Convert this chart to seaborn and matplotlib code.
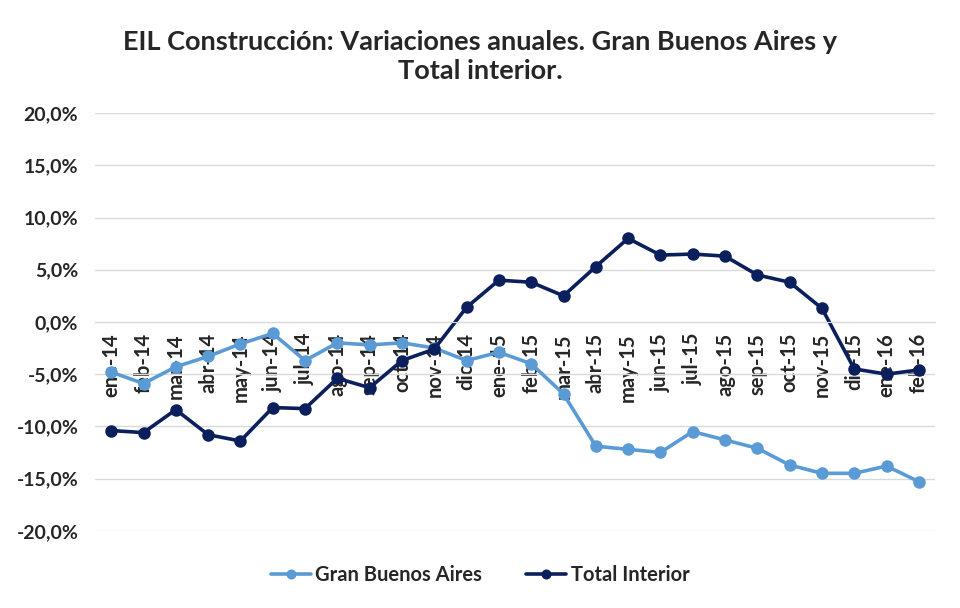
import matplotlib
matplotlib.use("Agg")
import matplotlib.pyplot as plt
import matplotlib.ticker as mticker
import seaborn as sns
import pandas as pd

# === Data (annual change, %) ===
meses = ["ene-14", "feb-14", "mar-14", "abr-14", "may-14", "jun-14", "jul-14",
         "ago-14", "sep-14", "oct-14", "nov-14", "dic-14", "ene-15", "feb-15",
         "mar-15", "abr-15", "may-15", "jun-15", "jul-15", "ago-15", "sep-15",
         "oct-15", "nov-15", "dic-15", "ene-16", "feb-16"]
gran_bs_as = [-4.8, -5.9, -4.3, -3.3, -2.1, -1.1, -3.7, -2.0, -2.2, -2.0, -2.5,
              -3.7, -2.9, -4.0, -6.9, -11.9, -12.2, -12.5, -10.5, -11.3, -12.1,
              -13.7, -14.5, -14.5, -13.8, -15.3]
total_interior = [-10.4, -10.6, -8.4, -10.8, -11.4, -8.2, -8.3, -5.4, -6.3,
                  -3.7, -2.6, 1.4, 4.0, 3.8, 2.5, 5.3, 8.0, 6.4, 6.5, 6.3, 4.5,
                  3.8, 1.3, -4.5, -5.0, -4.6]
series = ["Gran Buenos Aires", "Total Interior"]
colores = {"Gran Buenos Aires": "#5B9BD5", "Total Interior": "#0B1F5C"}

df = pd.DataFrame({
    "idx": list(range(len(meses))) * 2,
    "valor": gran_bs_as + total_interior,
    "serie": [series[0]] * len(meses) + [series[1]] * len(meses),
})

# === Plot Settings ===
sns.set_style("white")
plt.rcParams["font.family"] = ["Lato", "DejaVu Sans"]
plt.rcParams["font.weight"] = "bold"

fig = plt.figure(figsize=(9.6, 6.08), dpi=100)
ax = fig.add_axes([0.099, 0.127, 0.875, 0.687])

sns.lineplot(data=df, x="idx", y="valor", hue="serie", palette=colores,
             marker="o", markersize=9, markeredgewidth=0, linewidth=2.6,
             ax=ax, legend=True)

# === Axes ===
ax.set_ylim(-20, 20)
ax.set_xlim(-0.5, len(meses) - 0.5)
ax.yaxis.set_major_locator(mticker.MultipleLocator(5))
ax.yaxis.set_major_formatter(
    mticker.FuncFormatter(lambda v, p: f"{v:.1f}%".replace(".", ",")))
ax.grid(axis="y", color="#D9D9D9", linewidth=1)
ax.set_axisbelow(True)
for s in ["left", "right", "top"]:
    ax.spines[s].set_visible(False)
ax.spines["bottom"].set_position(("data", 0))
ax.spines["bottom"].set_color("#D9D9D9")

ax.set_xticks(range(len(meses)))
ax.set_xticklabels(meses, rotation=90, ha="center", va="top")
ax.set_xticks([i - 0.5 for i in range(len(meses) + 1)], minor=True)
ax.tick_params(axis="x", which="major", length=0, pad=8, labelsize=14.5)
ax.tick_params(axis="x", which="minor", length=6, color="#D9D9D9", direction="out")
ax.tick_params(axis="y", length=0, labelsize=14, pad=12)
ax.set_xlabel("")
ax.set_ylabel("")

fig.suptitle("EIL Construcción: Variaciones anuales. Gran Buenos Aires y\nTotal interior.",
             x=0.5, y=0.95, fontsize=19.5, fontweight="bold", linespacing=1.25)

ax.legend(loc="center", bbox_to_anchor=(0.5, 0.055), bbox_transform=fig.transFigure,
          ncol=2, frameon=False, fontsize=14.5, handlelength=2.0, markerscale=0.8,
          columnspacing=2.2, handletextpad=0.2)

fig.savefig("out.png", dpi=100)
plt.close(fig)
